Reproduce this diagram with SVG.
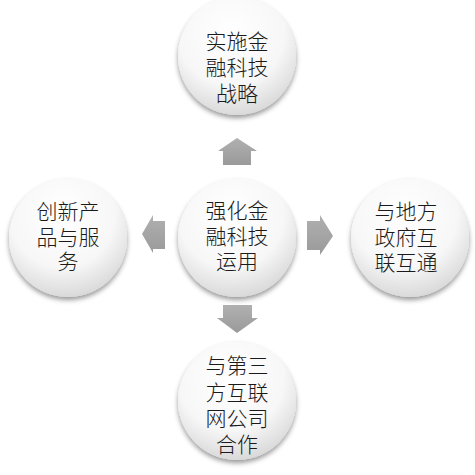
<svg xmlns="http://www.w3.org/2000/svg" width="475" height="475" viewBox="0 0 475 475">
<defs>
<radialGradient id="cg" cx="0.45" cy="0.3" r="0.75">
<stop offset="0" stop-color="#ffffff"/>
<stop offset="0.6" stop-color="#f7f7f7"/>
<stop offset="1" stop-color="#d4d4d4"/>
</radialGradient>
<linearGradient id="ag" x1="0" y1="0" x2="0" y2="1">
<stop offset="0" stop-color="#b0b0b0"/>
<stop offset="1" stop-color="#9a9a9a"/>
</linearGradient>
<filter id="sh" x="-30%" y="-30%" width="160%" height="170%">
<feDropShadow dx="0" dy="3" stdDeviation="2.5" flood-color="#000" flood-opacity="0.4"/>
</filter>
<filter id="soft" x="-20%" y="-20%" width="140%" height="140%">
<feGaussianBlur stdDeviation="0.6"/>
</filter>
</defs>
<style>
.c{fill:url(#cg);filter:url(#sh)}
.t{font-family:"Noto Sans CJK SC","Noto Sans",sans-serif;font-size:21px;font-weight:300;fill:#1a1a1a;text-anchor:middle;dominant-baseline:central}
.a{fill:url(#ag);filter:url(#soft)}
</style>
<g id="connectors">
<path class="a" d="M237,138 L257,151 L251,151 L251,165 L223,165 L223,151 L218,151 Z"/>
<path class="a" d="M237,333 L258,318 L252,318 L252,305 L223,305 L223,318 L217,318 Z"/>
<path class="a" d="M142,234 L153,215 L153,221 L165,221 L165,249 L153,249 L153,253 Z"/>
<path class="a" d="M333,236 L320,215 L320,221 L307,221 L307,250 L320,250 L320,255 Z"/>
</g>
<g id="center">
<circle class="c" cx="237" cy="238" r="59"/>
<text class="t" x="237" y="209">强化金<tspan x="237" dy="26">融科技</tspan><tspan x="237" dy="25">运用</tspan></text>
</g>
<g id="top">
<circle class="c" cx="237" cy="56" r="59"/>
<text class="t" x="237" y="40">实施金<tspan x="237" dy="26">融科技</tspan><tspan x="237" dy="26">战略</tspan></text>
</g>
<g id="left">
<circle class="c" cx="68" cy="238" r="59"/>
<text class="t" x="68" y="210">创新产<tspan x="68" dy="26">品与服</tspan><tspan x="68" dy="24">务</tspan></text>
</g>
<g id="right">
<circle class="c" cx="410" cy="238" r="59"/>
<text class="t" x="406" y="210">与地方<tspan x="406" dy="26">政府互</tspan><tspan x="406" dy="25">联互通</tspan></text>
</g>
<g id="bottom">
<circle class="c" cx="237" cy="401" r="59"/>
<text class="t" x="237" y="364">与第三<tspan x="237" dy="27">方互联</tspan><tspan x="237" dy="26">网公司</tspan><tspan x="237" dy="26">合作</tspan></text>
</g>
</svg>
